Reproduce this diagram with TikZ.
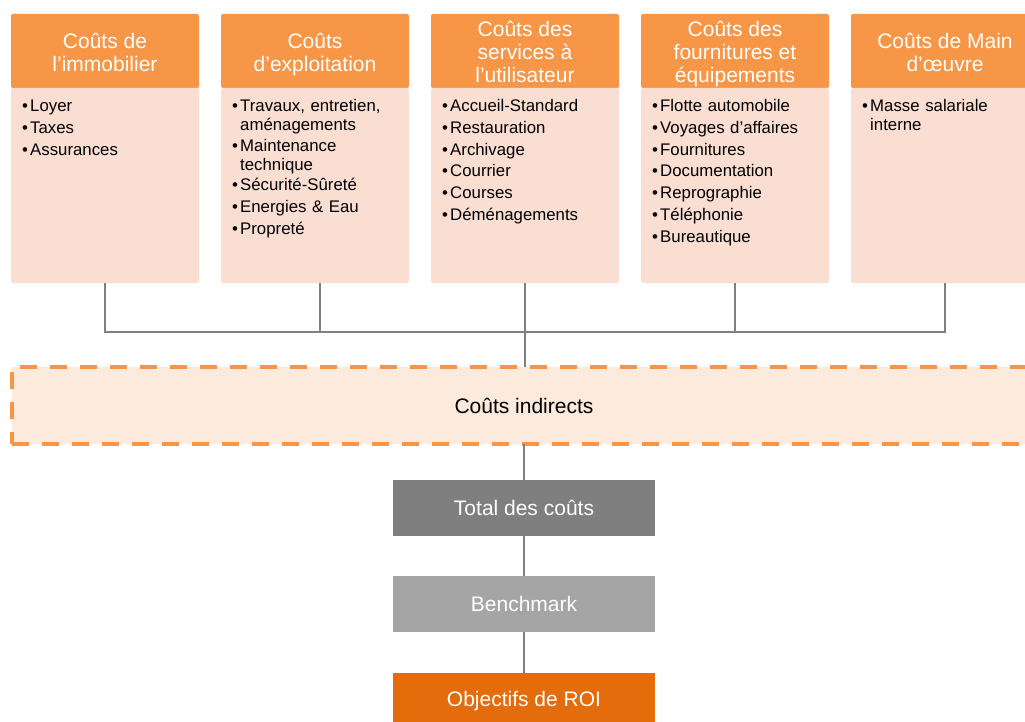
\documentclass[tikz,border=0pt]{standalone}
\usepackage{fontspec}
\setmainfont{Liberation Sans}
\usetikzlibrary{positioning, calc}

\definecolor{headOrange}{HTML}{F79646}
\definecolor{bodyPeach}{HTML}{FBDED2}
\definecolor{indPeach}{HTML}{FCEADC}
\definecolor{lineGray}{HTML}{808080}
\definecolor{totGray}{HTML}{7F7F7F}
\definecolor{benchGray}{HTML}{A5A5A5}
\definecolor{roiOrange}{HTML}{E46C0A}

% one bullet item, wrapped lines hang under the text
\newcommand{\itm}[1]{\par\parskip=2.7pt\relax\noindent
  \makebox[8pt][l]{\textbullet}\parbox[t]{165pt}{\raggedright\strut#1}}
% fixed first-line height and last-line depth for the headers
\newcommand{\hdtop}{\rule{0pt}{23pt}}
\newcommand{\hdbot}{\rule[-5pt]{0pt}{5pt}}

\begin{document}
\begin{tikzpicture}[x=1pt, y=-1pt,
  head/.style={fill=headOrange, text=white, rounded corners=2pt, minimum width=188pt,
               minimum height=74pt, inner sep=0pt, outer sep=0pt, align=center,
               font=\fontsize{21}{23}\selectfont},
  body/.style={fill=bodyPeach, rounded corners=2pt, minimum width=188pt,
               minimum height=195pt, inner sep=0pt, outer sep=0pt},
  items/.style={anchor=north west, text width=175pt, inner sep=0pt,
                font=\fontsize{16.8}{19}\selectfont},
  stage/.style={fill=#1, text=white, minimum width=262pt, minimum height=56pt,
                inner sep=0pt, outer sep=0pt, font=\fontsize{21}{24}\selectfont},
  conn/.style={draw=lineGray, line width=2pt},
]
  \clip (0,0) rectangle (1025,722);

  % cost families
  \node[head] (h1) at (105,51) {\hdtop Coûts de\\l’immobilier\hdbot};
  \node[head, right=22pt of h1] (h2) {\hdtop Coûts\\d’exploitation\hdbot};
  \node[head, right=22pt of h2] (h3) {\hdtop Coûts des\\services à\\l’utilisateur\hdbot};
  \node[head, right=22pt of h3] (h4) {\hdtop Coûts des\\fournitures et\\équipements\hdbot};
  \node[head, right=22pt of h4] (h5) {\hdtop Coûts de Main\\d’œuvre\hdbot};

  \foreach \i in {1,...,5}
    \node[body, below=0pt of h\i] (b\i) {};

  \node[items] (l1) at ([shift={(11,2)}]b1.north west)
    {\itm{Loyer}\itm{Taxes}\itm{Assurances}};
  \node[items] (l2) at ([shift={(11,2)}]b2.north west)
    {\itm{Travaux, entretien,\\aménagements}\itm{Maintenance\\technique}
     \itm{Sécurité-Sûreté}\itm{Energies \& Eau}\itm{Propreté}};
  \node[items] (l3) at ([shift={(11,2)}]b3.north west)
    {\itm{Accueil-Standard}\itm{Restauration}\itm{Archivage}\itm{Courrier}
     \itm{Courses}\itm{Déménagements}};
  \node[items] (l4) at ([shift={(11,2)}]b4.north west)
    {\itm{Flotte automobile}\itm{Voyages d’affaires}\itm{Fournitures}
     \itm{Documentation}\itm{Reprographie}\itm{Téléphonie}\itm{Bureautique}};
  \node[items] (l5) at ([shift={(11,2)}]b5.north west)
    {\itm{Masse salariale\\interne}};

  % indirect costs and chain
  \node[fill=indPeach, draw=headOrange, line width=3.5pt, dash pattern=on 17pt off 13pt,
        minimum width=1024pt, minimum height=77pt, inner sep=0pt, outer sep=0pt,
        font=\fontsize{21}{24}\selectfont] (ind) at (524,405.5) {Coûts indirects};
  \node[stage=totGray, below=36pt of ind] (tot) {Total des coûts};
  \node[stage=benchGray, below=40pt of tot] (bench) {Benchmark};
  \node[stage=roiOrange, below=41pt of bench] (roi) {Objectifs de ROI};

  \coordinate (bus) at (0,332);
  \draw[conn] (b1.south) -- (b1.south |- bus) -- (b5.south |- bus) -- (b5.south);
  \draw[conn] ([xshift=5pt]b2.south) -- ([xshift=5pt]b2.south |- bus);
  \draw[conn] (b4.south) -- (b4.south |- bus);
  \draw[conn] (b3.south) -- (b3.south |- ind.north);
  \draw[conn] (ind) -- (tot) -- (bench) -- (roi);
\end{tikzpicture}
\end{document}
